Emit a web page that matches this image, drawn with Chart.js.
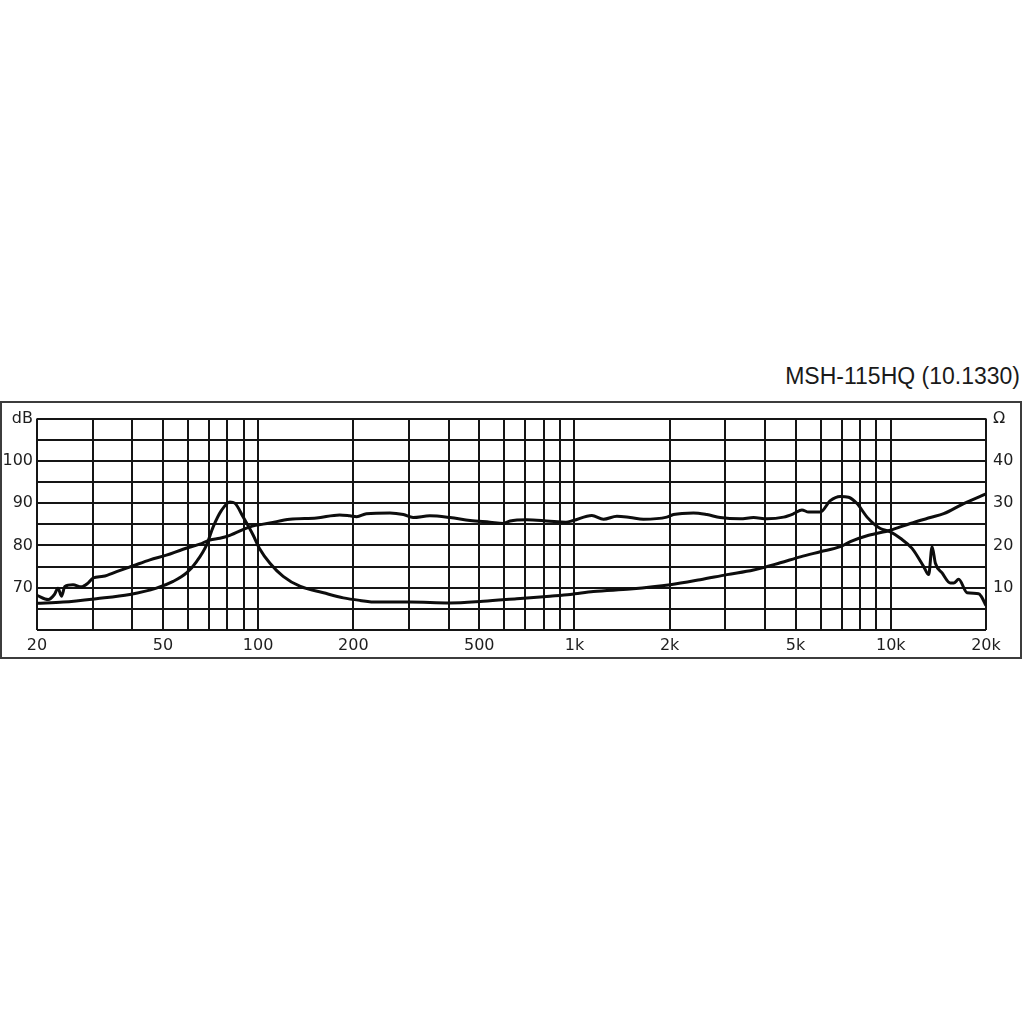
<!DOCTYPE html>
<html><head><meta charset="utf-8">
<script src="https://cdn.jsdelivr.net/npm/chart.js@4/dist/chart.umd.min.js"></script>
<style>
html,body{margin:0;padding:0;background:#fff;width:1024px;height:1024px;overflow:hidden;}
#title{position:absolute;right:4px;top:365px;font:23px/23px "Liberation Sans",Arial,sans-serif;color:#1a1a1a;white-space:nowrap;}
#frame{position:absolute;left:0;top:401px;width:1022px;height:258px;border:2px solid #3c3c3c;box-sizing:border-box;}
#wrap{position:absolute;left:0;top:402px;width:1024px;height:258px;}
</style></head><body>
<div id="title">MSH-115HQ (10.1330)</div>
<div id="frame"></div>
<div id="wrap"><canvas id="c" width="1024" height="258"></canvas></div>
<script>
// Frequency response (dB, left axis)
const splFreq = [20,21.7,22.7,23.3,23.9,24.5,26.0,27.6,29.0,30.1,32.4,35.7,40.3,45.5,51.3,57.9,65.4,70.4,75.7,81.4,94.2,109,126,153,181,195,205,220,261,288,309,349,404,468,541,596,626,707,837,940,992,1135,1235,1362,1500,1652,1959,2056,2378,2623,2889,3342,3682,4060,4582,4928,5238,5498,5986,6438,6924,7356,7822,8414,8936,9268,9968,10722,11676,12706,13178,13508,13836,14528,15434,15810,16394,17428,18964,19300,20000];
const splDb   = [68.2,67.2,68.4,69.9,68.0,70.3,70.7,70.2,71.1,72.3,72.7,73.8,75.2,76.6,77.7,79.1,80.3,81.3,81.7,82.4,84.4,85.3,86.2,86.5,87.2,87.0,86.8,87.5,87.7,87.3,86.6,87.0,86.6,85.9,85.5,85.2,85.8,86.1,85.7,85.5,85.9,87.1,86.2,86.9,86.6,86.2,86.7,87.3,87.7,87.3,86.6,86.3,86.6,86.3,86.7,87.5,88.4,87.9,87.9,90.6,91.6,91.4,89.9,86.7,84.8,84.0,83.2,81.7,79.3,75.0,73.1,79.7,75.8,73.5,71.1,71.1,72.0,68.8,68.6,68.0,65.8];
// Impedance (ohm, right axis)
const impFreq = [20,24.2,30.8,39.3,47.7,53.9,59.4,63.9,68.7,72.1,76.6,81.4,84.4,89.7,96.5,101,109,120,136,161,186,210,237,302,404,515,657,837,969,1148,1500,2007,2498,3034,3682,4474,5178,5986,6924,7450,8512,9968,11530,13342,14698,17004,20000];
const impOhm  = [6.3,6.6,7.4,8.4,9.9,11.5,13.5,16.2,20.1,24.4,28.3,30.3,30.0,26.7,22.4,19.3,15.8,12.7,10.3,8.8,7.6,7.0,6.6,6.6,6.4,6.8,7.4,8.0,8.4,9.1,9.7,10.7,11.9,13.1,14.2,15.9,17.3,18.5,19.7,20.9,22.4,23.6,25.2,26.6,27.5,29.9,32.2];
// Axes
const xGrid = [20,30,40,50,60,70,80,90,100,200,300,400,500,600,700,800,900,1000,2000,3000,4000,5000,6000,7000,8000,9000,10000,20000];
const xLabelValues = [20,50,100,200,500,1000,2000,5000,10000,20000];
const xLabelTexts  = ['20','50','100','200','500','1k','2k','5k','10k','20k'];
const dbLabelValues = [110,100,90,80,70];
const dbLabelTexts  = ['dB','100','90','80','70'];
const ohmLabelValues = [50,40,30,20,10];
const ohmLabelTexts  = ['Ω','40','30','20','10'];

const tickFont = {family:'"DejaVu Sans", Verdana, sans-serif', size:16};
const gridStyle = {color:'#151515', lineWidth:2, drawTicks:false};
const lineStyle = {borderColor:'#0d0d0d', borderWidth:3, pointRadius:0, tension:0, cubicInterpolationMode:'monotone', fill:false};

new Chart(document.getElementById('c'), {
  type:'line',
  data:{datasets:[
    Object.assign({label:'SPL', yAxisID:'y', data:splFreq.map((f,i)=>({x:f,y:splDb[i]}))}, lineStyle),
    Object.assign({label:'Impedance', yAxisID:'y2', data:impFreq.map((f,i)=>({x:f,y:impOhm[i]}))}, lineStyle)
  ]},
  options:{
    responsive:false, animation:false,
    layout:{padding:{top:15,left:0,right:0,bottom:0}},
    plugins:{legend:{display:false}, tooltip:{enabled:false}, title:{display:false}},
    scales:{
      x:{type:'logarithmic', min:20, max:20000,
        afterBuildTicks:s=>{s.ticks = xGrid.map(v=>({value:v}));},
        afterFit:s=>{s.height=30;},
        grid:gridStyle, border:{display:false},
        ticks:{autoSkip:false, maxRotation:0, minRotation:0, padding:6, color:'#1e1e1e', font:tickFont,
          callback:(v)=>{const i=xLabelValues.indexOf(v); return i>=0?xLabelTexts[i]:'';}}
      },
      y:{type:'linear', position:'left', min:60, max:110,
        afterFit:s=>{s.width=37;},
        grid:gridStyle, border:{display:false},
        ticks:{stepSize:5, autoSkip:false, padding:4, crossAlign:'near', color:'#1e1e1e', font:tickFont,
          callback:(v)=>{const i=dbLabelValues.indexOf(v); return i>=0?dbLabelTexts[i]:'';}}
      },
      y2:{type:'linear', position:'right', min:0, max:50,
        afterFit:s=>{s.width=38;},
        grid:{display:false, drawTicks:false}, border:{display:false},
        ticks:{stepSize:5, autoSkip:false, padding:7, crossAlign:'near', color:'#1e1e1e', font:tickFont,
          callback:(v)=>{const i=ohmLabelValues.indexOf(v); return i>=0?ohmLabelTexts[i]:'';}}
      }
    }
  }
});
</script>
</body></html>
